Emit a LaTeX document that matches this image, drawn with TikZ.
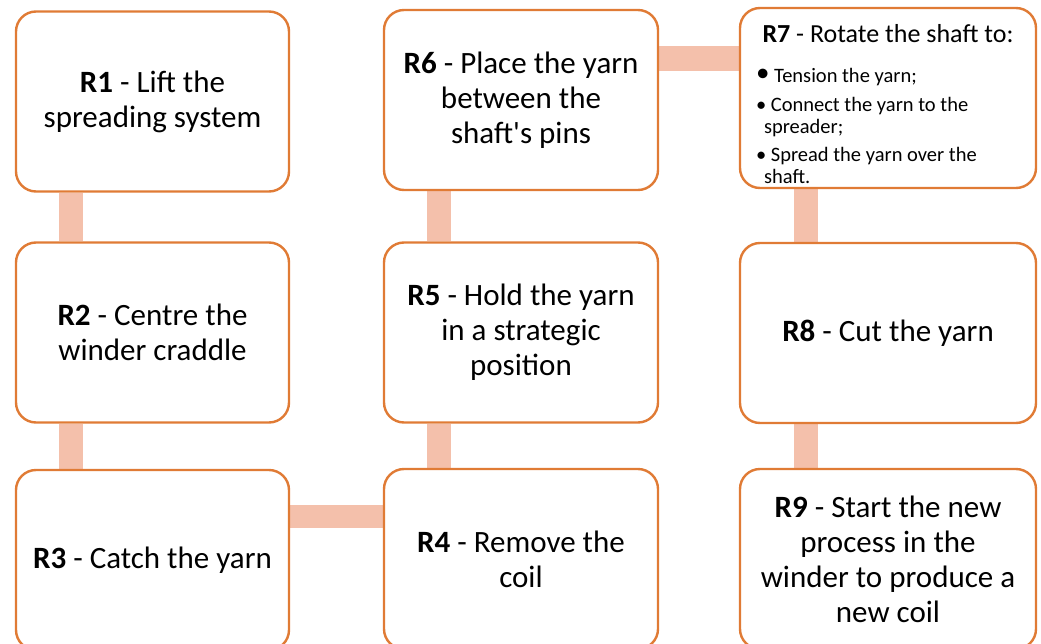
\documentclass[tikz,border=0pt]{standalone}
\usepackage{fontspec}
\setmainfont{Carlito}
\usetikzlibrary{backgrounds}
\definecolor{boxline}{HTML}{E07B35}
\definecolor{barfill}{HTML}{F4C0AB}

\begin{document}
\begin{tikzpicture}[x=1pt,y=-1pt,
    stepbox/.style={draw=boxline,line width=2.4pt,fill=white,rounded corners=20pt,minimum height=180pt,align=center,font=\fontsize{31}{35}\selectfont},
    itemtext/.style={anchor=base west,align=left,inner sep=0pt,font=\fontsize{20.5}{22}\selectfont}]
    \useasboundingbox (0,0) rectangle (1041,644);
    \node[stepbox,minimum width=273pt] (r1) at (152.5,101.5) {\textbf{R1} - Lift the\\spreading system};
    \node[stepbox,minimum width=273pt] (r2) at (152.5,332.5) {\textbf{R2} - Centre the\\winder craddle};
    \node[stepbox,minimum width=273pt] (r3) at (152.5,560) {\textbf{R3} - Catch the yarn};
    \node[stepbox,minimum width=274pt] (r4) at (521,559) {\textbf{R4} - Remove the\\coil};
    \node[stepbox,minimum width=274pt] (r5) at (521,332.5) {\textbf{R5} - Hold the yarn\\in a strategic\\position};
    \node[stepbox,minimum width=274pt] (r6) at (521,100) {\textbf{R6} - Place the yarn\\between the\\shaft\textquotesingle s pins};
    \node[stepbox,minimum width=296pt] (r7) at (888,98) {};
    \node[stepbox,minimum width=296pt] (r8) at (888,333) {\textbf{R8} - Cut the yarn};
    \node[stepbox,minimum width=296pt] (r9) at (888,559) {\textbf{R9} - Start the new\\process in the\\winder to produce a\\new coil};
    \node[anchor=base,inner sep=0pt,font=\fontsize{26}{30}\selectfont] (r7title) at ([yshift=-36pt]r7.north) {\textbf{R7} - Rotate the shaft to:};
    \node[itemtext] (r7a) at ([shift={(17pt,-76pt)}]r7.north west) {\raisebox{1pt}{\fontsize{27}{27}\selectfont\textbullet}\ Tension the yarn;};
    \node[itemtext] (r7b) at ([shift={(17pt,-127pt)}]r7.north west) {\textbullet\ Connect the yarn to the\\\hspace*{8pt}spreader;};
    \node[itemtext] (r7c) at ([shift={(17pt,-177pt)}]r7.north west) {\textbullet\ Spread the yarn over the\\\hspace*{8pt}shaft.};
    \coordinate (bar67) at ([yshift=-62pt]r6.north east);
    \begin{scope}[on background layer]
      \fill[barfill] ([xshift=44pt]r1.south west) rectangle ([xshift=68pt]r2.north west);
      \fill[barfill] ([xshift=44pt]r2.south west) rectangle ([xshift=68pt]r3.north west);
      \fill[barfill] ([yshift=-36pt]r3.north east) rectangle ([yshift=-60pt]r4.north west);
      \fill[barfill] ([xshift=44pt]r4.north west) rectangle ([xshift=68pt]r5.south west);
      \fill[barfill] ([xshift=44pt]r5.north west) rectangle ([xshift=68pt]r6.south west);
      \fill[barfill] ([yshift=-37pt]r6.north east) rectangle (bar67 -| r7.west);
      \fill[barfill] ([xshift=55pt]r7.south west) rectangle ([xshift=79pt]r8.north west);
      \fill[barfill] ([xshift=55pt]r8.south west) rectangle ([xshift=79pt]r9.north west);
    \end{scope}
\end{tikzpicture}
\end{document}
